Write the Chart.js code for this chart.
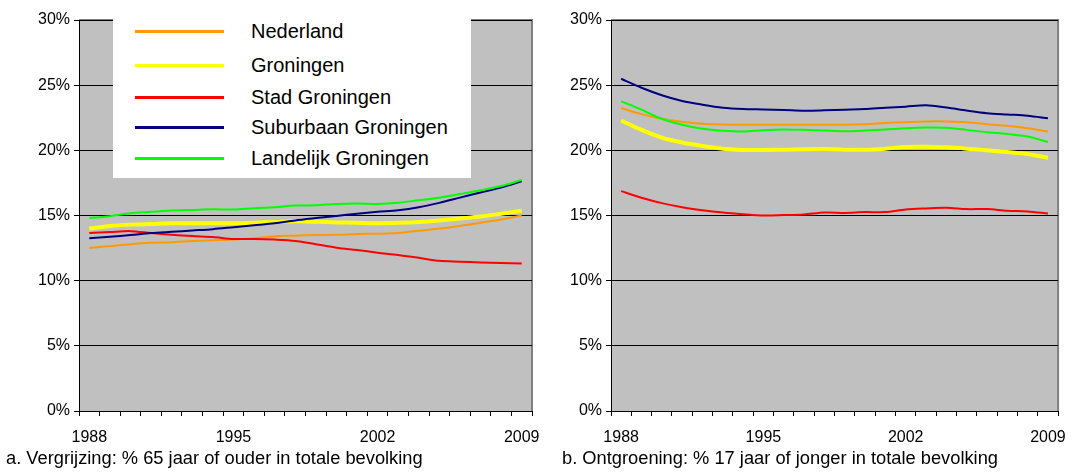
<!DOCTYPE html>
<html>
<head>
<meta charset="utf-8">
<script src="https://cdn.jsdelivr.net/npm/chart.js@4"></script>
<style>
  html, body { margin: 0; padding: 0; background: #fff; }
  #wrap { position: relative; width: 1078px; height: 472px; font-family: 'Liberation Sans', Arial, sans-serif; color: #000; }
  #wrap canvas { position: absolute; left: 0; top: 0; }
  .caption { position: absolute; top: 448px; font-size: 18.3px; line-height: 20px; white-space: nowrap; }
  #legend { position: absolute; left: 113px; top: 0; width: 358px; height: 178px; background: #fff; }
  .item { position: absolute; left: 0; height: 24px; width: 358px; }
  .item .swatch { position: absolute; left: 22px; width: 89px; }
  .item .label { position: absolute; left: 138px; top: 0; font-size: 20px; line-height: 24px; white-space: nowrap; }
</style>
</head>
<body>
<div id="wrap">
  <canvas id="ageChart" width="1078" height="472"></canvas>
  <canvas id="youthChart" width="1078" height="472"></canvas>
  <div id="legend"></div>
  <div class="caption" style="left:6px">a. Vergrijzing: % 65 jaar of ouder in totale bevolking</div>
  <div class="caption" style="left:562px">b. Ontgroening: % 17 jaar of jonger in totale bevolking</div>
</div>
<script>
// jaren 1988 - 2009
const years = ['1988', '1989', '1990', '1991', '1992', '1993', '1994', '1995', '1996', '1997', '1998',
               '1999', '2000', '2001', '2002', '2003', '2004', '2005', '2006', '2007', '2008', '2009'];
const shownYears = ['1988', '1995', '2002', '2009'];
const yTicks = [0, 5, 10, 15, 20, 25, 30];

const seriesNames = ['Nederland', 'Groningen', 'Stad Groningen', 'Suburbaan Groningen', 'Landelijk Groningen'];
const seriesColors = ['#ff9900', '#ffff00', '#ff0000', '#000080', '#00ff00'];
const seriesWidths = [2, 4, 2, 2, 2];

// a. % 65 jaar of ouder
const ageNederland  = [12.5, 12.65, 12.8, 12.9, 12.95, 13.05, 13.1, 13.15, 13.25, 13.4, 13.45, 13.5, 13.52, 13.58, 13.6, 13.65, 13.83, 14.0, 14.2, 14.45, 14.7, 15.0];
const ageGroningen  = [14.0, 14.2, 14.3, 14.35, 14.4, 14.4, 14.4, 14.4, 14.45, 14.5, 14.55, 14.52, 14.47, 14.44, 14.41, 14.44, 14.5, 14.62, 14.77, 14.92, 15.13, 15.36];
const ageStad       = [13.65, 13.73, 13.8, 13.65, 13.52, 13.42, 13.35, 13.2, 13.2, 13.15, 13.05, 12.8, 12.53, 12.35, 12.15, 11.97, 11.75, 11.52, 11.46, 11.4, 11.36, 11.31];
const ageSuburbaan  = [13.25, 13.37, 13.5, 13.65, 13.75, 13.85, 13.95, 14.1, 14.25, 14.4, 14.62, 14.8, 14.97, 15.13, 15.28, 15.41, 15.64, 15.97, 16.37, 16.76, 17.14, 17.62];
const ageLandelijk  = [14.8, 14.95, 15.18, 15.28, 15.38, 15.43, 15.48, 15.46, 15.56, 15.64, 15.76, 15.79, 15.89, 15.92, 15.89, 15.97, 16.17, 16.37, 16.65, 16.93, 17.26, 17.72];

// b. % 17 jaar of jonger
const youthNederland = [23.25, 22.78, 22.42, 22.19, 22.04, 21.98, 21.96, 21.96, 21.96, 21.96, 21.96, 21.96, 22.0, 22.09, 22.16, 22.22, 22.22, 22.16, 22.0, 21.88, 21.7, 21.44];
const youthGroningen = [22.29, 21.57, 20.98, 20.6, 20.34, 20.13, 20.03, 20.03, 20.05, 20.08, 20.1, 20.05, 20.05, 20.13, 20.26, 20.28, 20.23, 20.13, 20.0, 19.87, 19.72, 19.43];
const youthStad      = [16.87, 16.36, 15.95, 15.64, 15.41, 15.23, 15.1, 15.0, 15.03, 15.08, 15.23, 15.2, 15.26, 15.26, 15.46, 15.54, 15.59, 15.49, 15.49, 15.36, 15.31, 15.15];
const youthSuburbaan = [25.49, 24.8, 24.23, 23.79, 23.5, 23.27, 23.17, 23.14, 23.1, 23.04, 23.07, 23.12, 23.17, 23.27, 23.35, 23.45, 23.28, 23.05, 22.85, 22.75, 22.66, 22.46];
const youthLandelijk = [23.76, 23.12, 22.42, 21.96, 21.65, 21.5, 21.44, 21.55, 21.6, 21.57, 21.52, 21.47, 21.52, 21.6, 21.7, 21.75, 21.73, 21.57, 21.39, 21.26, 21.06, 20.64];

Chart.defaults.font.family = "'Liberation Sans', Arial, sans-serif";
Chart.defaults.font.size = 16;
Chart.defaults.color = '#000';

// grijze plotachtergrond met rand
const plotFrame = {
  id: 'plotFrame',
  beforeDraw(chart) {
    const { ctx, chartArea: a } = chart;
    ctx.save();
    ctx.fillStyle = '#c0c0c0';
    ctx.fillRect(a.left, a.top, a.right - a.left, a.bottom - a.top);
    ctx.strokeStyle = '#808080';
    ctx.lineWidth = 2;
    ctx.beginPath();
    ctx.moveTo(a.left, a.top);
    ctx.lineTo(a.right, a.top);
    ctx.lineTo(a.right, a.bottom);
    ctx.stroke();
    ctx.restore();
  }
};

function makeDatasets(values) {
  return values.map((data, i) => ({
    label: seriesNames[i],
    data,
    borderColor: seriesColors[i],
    backgroundColor: seriesColors[i],
    borderWidth: seriesWidths[i],
    pointRadius: 0,
    tension: 0.3,
    fill: false,
    order: values.length - i
  }));
}

function makeChart(id, values, padLeft, padRight) {
  return new Chart(document.getElementById(id), {
    type: 'line',
    data: { labels: years, datasets: makeDatasets(values) },
    options: {
      responsive: false,
      animation: false,
      layout: { padding: { left: padLeft, right: padRight, top: 20, bottom: 21 } },
      plugins: { legend: { display: false }, tooltip: { enabled: false } },
      scales: {
        x: {
          type: 'category',
          offset: true,
          afterFit: s => { s.height = 40; },
          grid: { offset: true, drawOnChartArea: false, drawTicks: true, tickLength: 5, color: '#000' },
          border: { display: true, color: '#000', width: 1 },
          ticks: {
            autoSkip: false,
            maxRotation: 0,
            padding: 12,
            callback: (v, i) => shownYears.includes(years[i]) ? years[i] : ''
          }
        },
        y: {
          min: 0,
          max: 30,
          afterFit: s => { s.width = 79; },
          afterBuildTicks: s => { s.ticks = yTicks.map(v => ({ value: v })); },
          grid: { color: '#000', tickLength: 5, lineWidth: 1 },
          border: { display: true, color: '#000', width: 1 },
          ticks: { padding: 4, callback: v => v + '%' }
        }
      }
    },
    plugins: [plotFrame]
  });
}

const ageChart = makeChart('ageChart',
  [ageNederland, ageGroningen, ageStad, ageSuburbaan, ageLandelijk], 0, 546);
const youthChart = makeChart('youthChart',
  [youthNederland, youthGroningen, youthStad, youthSuburbaan, youthLandelijk], 532, 12);

// legenda in het linkerpaneel
const legendRows = [31, 65, 97, 127, 158];
const legendEl = document.getElementById('legend');
ageChart.data.datasets.forEach((ds, i) => {
  const row = document.createElement('div');
  row.className = 'item';
  row.style.top = (legendRows[i] - 12) + 'px';
  const sw = document.createElement('div');
  sw.className = 'swatch';
  sw.style.height = '3px';
  sw.style.top = '11px';
  sw.style.background = ds.borderColor;
  const lb = document.createElement('div');
  lb.className = 'label';
  lb.textContent = ds.label;
  row.appendChild(sw);
  row.appendChild(lb);
  legendEl.appendChild(row);
});
</script>
</body>
</html>
